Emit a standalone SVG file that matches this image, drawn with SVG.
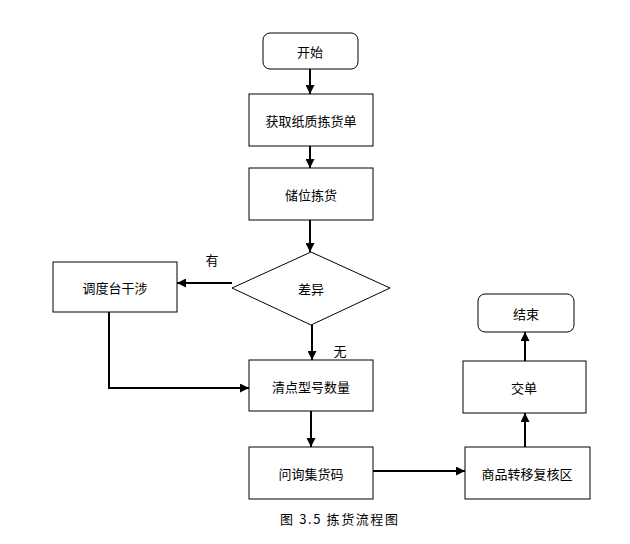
<svg xmlns="http://www.w3.org/2000/svg" width="630" height="544" viewBox="0 0 630 544">
<defs>
<style>
.b{fill:#fff;stroke:#000;stroke-width:1}
.t{font-family:"Noto Sans CJK SC","Noto Sans",sans-serif;font-size:13px;fill:#000;text-anchor:middle;dominant-baseline:central}
.c{fill:none;stroke:#000;stroke-width:2}
</style>
<marker id="a" viewBox="0 0 10 10" refX="10" refY="5" markerWidth="4.5" markerHeight="4.5" orient="auto" markerUnits="strokeWidth">
<path d="M0,0 L10,5 L0,10 z" fill="#000"/>
</marker>
</defs>
<rect width="630" height="544" fill="#fff"/>
<g id="connectors">
<line class="c" x1="310" y1="69" x2="310" y2="94" marker-end="url(#a)"/>
<line class="c" x1="310" y1="146" x2="310" y2="168" marker-end="url(#a)"/>
<line class="c" x1="310" y1="220" x2="310" y2="252" marker-end="url(#a)"/>
<line class="c" x1="232" y1="283" x2="177" y2="283" marker-end="url(#a)"/>
<line class="c" x1="312" y1="325" x2="312" y2="360" marker-end="url(#a)"/>
<polyline class="c" points="109,312 109,388 249,388" marker-end="url(#a)"/>
<line class="c" x1="311" y1="411" x2="311" y2="447" marker-end="url(#a)"/>
<line class="c" x1="373" y1="471" x2="465" y2="471" marker-end="url(#a)"/>
<line class="c" x1="525" y1="447" x2="525" y2="413" marker-end="url(#a)"/>
<line class="c" x1="525" y1="361" x2="525" y2="332" marker-end="url(#a)"/>
<text class="t" x="212" y="259">有</text>
<text class="t" x="340" y="350">无</text>
</g>
<g id="start"><rect class="b" x="263" y="33" width="95" height="36" rx="7"/><text class="t" x="310" y="51">开始</text></g>
<g id="get"><rect class="b" x="249" y="94" width="124" height="52"/><text class="t" x="311" y="120">获取纸质拣货单</text></g>
<g id="pick"><rect class="b" x="249" y="168" width="124" height="52"/><text class="t" x="311" y="194">储位拣货</text></g>
<g id="diff"><polygon class="b" points="311,252 390,288 311,325 232,288"/><text class="t" x="311" y="288">差异</text></g>
<g id="dispatch"><rect class="b" x="53" y="262" width="124" height="50"/><text class="t" x="115" y="287">调度台干涉</text></g>
<g id="count"><rect class="b" x="249" y="360" width="124" height="51"/><text class="t" x="311" y="386">清点型号数量</text></g>
<g id="ask"><rect class="b" x="249" y="447" width="124" height="52"/><text class="t" x="311" y="473">问询集货码</text></g>
<g id="move"><rect class="b" x="465" y="447" width="125" height="52"/><text class="t" x="527" y="473">商品转移复核区</text></g>
<g id="hand"><rect class="b" x="463" y="361" width="123" height="52"/><text class="t" x="524" y="387">交单</text></g>
<g id="end"><rect class="b" x="478" y="294" width="96" height="38" rx="7"/><text class="t" x="526" y="313">结束</text></g>
<text x="280" y="518" textLength="118" lengthAdjust="spacing" style="font-family:'Noto Sans CJK SC',sans-serif;font-size:13px;dominant-baseline:central">图 3.5 拣货流程图</text>
</svg>
